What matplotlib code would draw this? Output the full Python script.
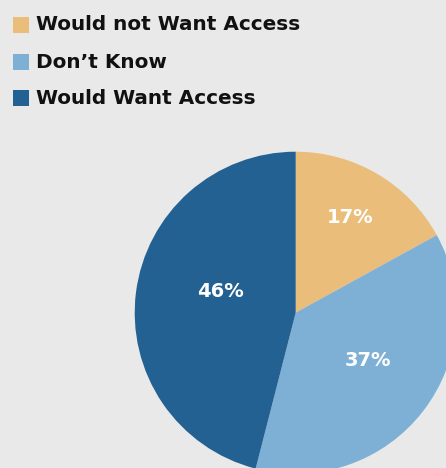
import matplotlib
matplotlib.use("Agg")
import matplotlib.pyplot as plt
from matplotlib.patches import Rectangle

BG = '#e9e9e9'

categories = ['Would not Want Access', 'Don\u2019t Know', 'Would Want Access']
shares = [17, 37, 46]
colors = ['#ebbd7a', '#7eb0d5', '#226192']
# label spots inside the slices, in pie radius units
label_pos = [(0.34, 0.59), (0.45, -0.30), (-0.47, 0.13)]

fig = plt.figure(figsize=(4.46, 4.68), dpi=100)
fig.patch.set_facecolor(BG)

# pie axes: centre at (296, 313) px, radius 161 px
W, H = 446, 468
cx, cy, r = 295.7, 312.7, 161
ax = fig.add_axes(((cx - r) / W, (H - cy - r) / H, 2 * r / W, 2 * r / H))
ax.set_facecolor(BG)
wedges, _, autotexts = ax.pie(shares, colors=colors, startangle=90,
                              counterclock=False, radius=1,
                              autopct='%d%%',
                              wedgeprops=dict(linewidth=0),
                              textprops=dict(color='white', fontsize=14,
                                             fontweight='bold'))
for t, (x, y) in zip(autotexts, label_pos):
    t.set_position((x, y))
for w in wedges:
    w.set_clip_on(False)
ax.set_xlim(-1, 1)
ax.set_ylim(-1, 1)
ax.axis('off')

# legend rows drawn by hand
rows_y = [25, 62, 98]
for name, col, y in zip(categories, colors, rows_y):
    fig.patches.append(Rectangle((13 / W, 1 - (y + 8) / H), 16 / W, 16 / H,
                                 transform=fig.transFigure, color=col,
                                 linewidth=0))
    fig.text(36 / W, 1 - y / H, name, va='center', ha='left',
             fontsize=14.4, fontweight='bold', color='#111111')

fig.savefig('out.png', dpi=100, facecolor=BG)
